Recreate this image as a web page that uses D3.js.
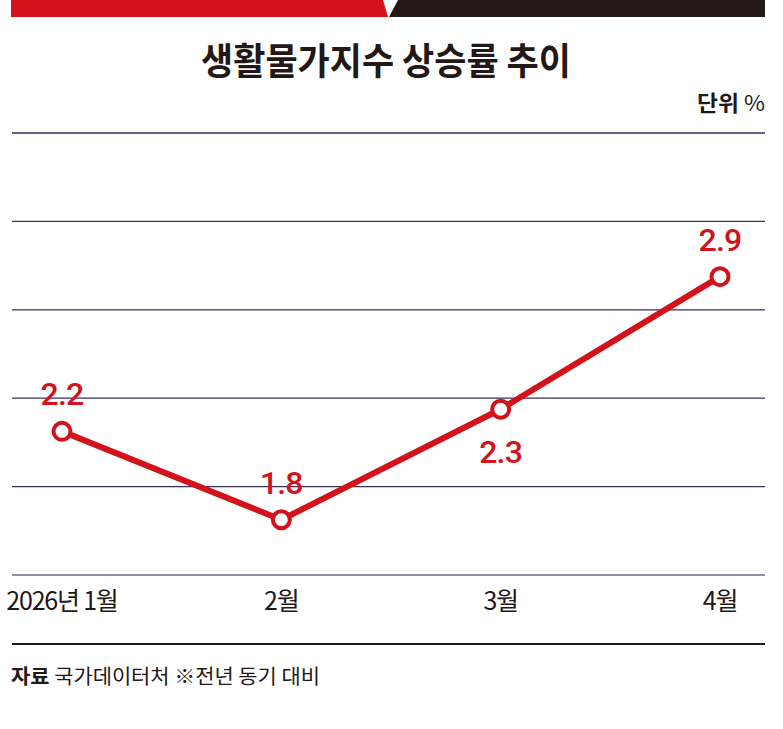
<!DOCTYPE html>
<html><head><meta charset="utf-8">
<script src="https://cdn.jsdelivr.net/npm/d3@7/dist/d3.min.js"></script>
<style>
html,body{margin:0;padding:0;background:#fff;}
svg{display:block;}
</style></head>
<body>
<svg id="c" width="783" height="729"></svg>
<script>
const title = "생활물가지수 상승률 추이";
const unitBold = "단위";
const unitRest = " %";
const categories = ["2026년 1월", "2월", "3월", "4월"];
const values = [2.2, 1.8, 2.3, 2.9];
const valueLabels = ["2.2", "1.8", "2.3", "2.9"];
const labelPlacement = ["above", "above", "below", "above"];
const gridTicks = [1.55, 1.95, 2.35, 2.75, 3.15, 3.55];
const sourceBold = "자료";
const sourceRest = " 국가데이터처 ※전년 동기 대비";

const RED = "#d3121c", DARK = "#231815", GRID = "#3a2d5a";
const font = "'Noto Sans CJK KR','Noto Sans',sans-serif";
const numFont = "Roboto,'Noto Sans',sans-serif";
const svg = d3.select("#c");

// top bar
svg.append("polygon").attr("points", "11,0 383,0 388,17 11,17").attr("fill", RED);
svg.append("polygon").attr("points", "398,0 765,0 765,17 389,17").attr("fill", DARK);

// title
svg.append("text").attr("x", 386).attr("y", 75).attr("text-anchor", "middle")
  .attr("font-family", font).attr("font-weight", 700).attr("font-size", 37)
  .attr("fill", DARK).attr("textLength", 370).attr("lengthAdjust", "spacingAndGlyphs")
  .text(title);

// unit
const u = svg.append("text").attr("x", 765).attr("y", 111).attr("text-anchor", "end")
  .attr("font-family", font).attr("font-size", 22).attr("fill", DARK)
  .attr("textLength", 68).attr("lengthAdjust", "spacingAndGlyphs");
u.append("tspan").attr("font-weight", 700).text(unitBold);
u.append("tspan").attr("font-weight", 400).text(unitRest);

const x = d3.scalePoint().domain(categories).range([62, 720]);
const y = d3.scaleLinear().domain([1.55, 3.55]).range([575, 133]);

// grid
svg.append("g").selectAll("line").data(gridTicks).join("line")
  .attr("x1", 12).attr("x2", 765)
  .attr("y1", d => y(d)).attr("y2", d => y(d))
  .attr("stroke", (d, i) => i === 0 ? "#6f6690" : GRID).attr("stroke-width", 1.3);

// x labels
svg.append("g").selectAll("text").data(categories).join("text")
  .attr("x", d => x(d)).attr("y", 610).attr("text-anchor", "middle")
  .attr("font-family", font).attr("font-size", 25).attr("fill", DARK)
  .attr("letter-spacing", -1.2)
  .text(d => d);

// line
const pts = categories.map((c, i) => ({c, v: values[i], l: valueLabels[i], p: labelPlacement[i]}));
svg.append("path").datum(pts)
  .attr("d", d3.line().x(d => x(d.c)).y(d => y(d.v)))
  .attr("fill", "none").attr("stroke", RED).attr("stroke-width", 6).attr("stroke-linejoin", "round");

svg.append("g").selectAll("circle").data(pts).join("circle")
  .attr("cx", d => x(d.c)).attr("cy", d => y(d.v)).attr("r", 8.5)
  .attr("fill", "#fff").attr("stroke", RED).attr("stroke-width", 4);

svg.append("g").selectAll("text").data(pts).join("text")
  .attr("x", d => x(d.c)).attr("y", d => y(d.v) + (d.p === "above" ? -26 : 54))
  .attr("text-anchor", "middle").attr("font-family", numFont).attr("font-weight", 500)
  .attr("font-size", 32).attr("fill", RED).attr("letter-spacing", -0.8)
  .text(d => d.l);

// bottom rule
svg.append("line").attr("x1", 12).attr("x2", 765).attr("y1", 644).attr("y2", 644)
  .attr("stroke", DARK).attr("stroke-width", 2.2);

// source
const s = svg.append("text").attr("x", 11).attr("y", 684)
  .attr("font-family", font).attr("font-size", 20).attr("fill", DARK)
  .attr("textLength", 309).attr("lengthAdjust", "spacingAndGlyphs");
s.append("tspan").attr("font-weight", 700).text(sourceBold);
s.append("tspan").attr("font-weight", 400).text(sourceRest);
</script>
</body></html>
